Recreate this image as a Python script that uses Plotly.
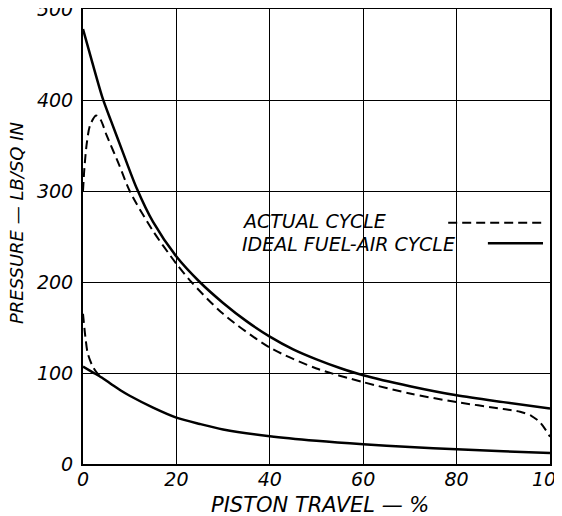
import plotly.graph_objects as go

# Ideal fuel-air cycle: expansion line (upper) and compression line (lower)
ideal_exp_x = [0, 2, 4.2, 6, 8.5, 11.5, 15, 20, 25, 30, 35, 40, 45, 50, 55, 60, 70, 80, 90, 100]
ideal_exp_p = [478, 441, 402, 377, 343, 303, 266, 228, 200, 177, 157, 140, 126, 115, 105.5, 97.5, 85.5, 75.5, 68, 61]

ideal_comp_x = [0, 2, 4, 6, 8, 10, 15, 20, 25, 30, 40, 50, 60, 70, 80, 90, 100]
ideal_comp_p = [107, 101, 95, 88, 81, 75, 62, 51, 44, 38, 30.5, 25.5, 21.7, 18.7, 16.2, 14, 12]

# Actual cycle: expansion (upper) and compression (lower)
actual_exp_x = [0, 0.3, 0.8, 1.5, 2.8, 3.8, 5, 7.8, 10, 15, 20, 23.2, 30, 40, 50, 60, 70, 80, 90, 93.6, 96, 98, 100]
actual_exp_p = [300, 325, 352, 372, 383, 378, 362, 328, 300, 256, 220, 200, 165, 128, 105, 90, 77.5, 68, 60.5, 57.5, 53, 45, 30]

actual_comp_x = [0, 0.5, 1, 2, 3, 4]
actual_comp_p = [165, 140, 122, 108, 100, 95]

x_ticks = [0, 20, 40, 60, 80, 100]
y_ticks = [0, 100, 200, 300, 400, 500]

FONT = "DejaVu Sans"

fig = go.Figure()
solid = dict(color="black", width=2.5)
dashed = dict(color="black", width=2, dash="9px,5px")

fig.add_trace(go.Scatter(x=ideal_exp_x, y=ideal_exp_p, mode="lines", line=dict(shape="spline", smoothing=0.8, **solid), showlegend=False))
fig.add_trace(go.Scatter(x=ideal_comp_x, y=ideal_comp_p, mode="lines", line=dict(shape="spline", smoothing=0.8, **solid), showlegend=False))
fig.add_trace(go.Scatter(x=actual_exp_x, y=actual_exp_p, mode="lines", line=dict(shape="spline", smoothing=0.8, **dashed), showlegend=False))
fig.add_trace(go.Scatter(x=actual_comp_x, y=actual_comp_p, mode="lines", line=dict(shape="spline", smoothing=0.8, **dashed), showlegend=False))

axis_font = dict(family=FONT, size=19, color="black", style="italic")

fig.update_xaxes(range=[0, 100], tickvals=x_ticks, ticktext=[str(v) for v in x_ticks],
                 showgrid=True, gridcolor="black", gridwidth=1.3, zeroline=False,
                 showline=True, linecolor="black", linewidth=2, mirror=True,
                 ticks="", tickfont=axis_font, ticklabelstandoff=-3,
                 ticklabeloverflow="allow", automargin=False)
fig.update_yaxes(range=[0, 500], tickvals=y_ticks, ticktext=[str(v) for v in y_ticks],
                 showgrid=True, gridcolor="black", gridwidth=1.3, zeroline=False,
                 showline=True, linecolor="black", linewidth=2, mirror=True,
                 ticks="", tickfont=axis_font, ticklabelstandoff=4,
                 ticklabeloverflow="allow", automargin=False)

fig.add_annotation(xref="paper", yref="paper", x=0.507, y=-0.09, xanchor="center", yanchor="middle",
                   text="PISTON TRAVEL — %", showarrow=False,
                   font=dict(family=FONT, size=21, color="black", style="italic"))
fig.add_annotation(xref="paper", yref="paper", x=-0.141, y=0.53, xanchor="center", yanchor="middle",
                   text="PRESSURE — LB/SQ IN", textangle=-90, showarrow=False,
                   font=dict(family=FONT, size=18, color="black", style="italic"))

# legend box (white background, text followed by line sample)
fig.add_shape(type="rect", xref="paper", yref="paper", x0=0.325, x1=0.995, y0=0.45, y1=0.56,
              fillcolor="white", line=dict(width=0), layer="between")
leg_font = dict(family=FONT, size=19, color="black", style="italic")
fig.add_annotation(xref="paper", yref="paper", x=0.336, y=0.534, xanchor="left", yanchor="middle",
                   text="ACTUAL CYCLE", showarrow=False, font=leg_font)
fig.add_annotation(xref="paper", yref="paper", x=0.336, y=0.4835, xanchor="left", yanchor="middle",
                   text="IDEAL FUEL-AIR CYCLE", showarrow=False, font=leg_font)
fig.add_shape(type="line", xref="paper", yref="paper", x0=0.782, x1=0.985, y0=0.53, y1=0.53,
              line=dict(color="black", width=2, dash="9px,5px"))
fig.add_shape(type="line", xref="paper", yref="paper", x0=0.867, x1=0.985, y0=0.485, y1=0.485,
              line=dict(color="black", width=2.5))

# the page body has an 8px margin, so the figure is sized/offset to compensate
fig.update_layout(width=554, height=508, margin=dict(l=75, r=12, t=1, b=52),
                  plot_bgcolor="white", paper_bgcolor="white", showlegend=False)

fig.write_html("out.html")
